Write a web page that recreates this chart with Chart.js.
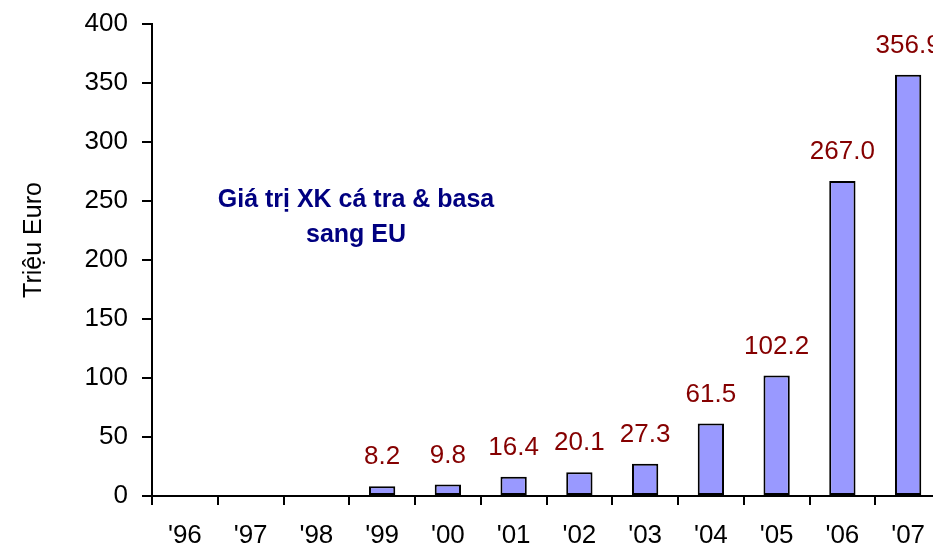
<!DOCTYPE html>
<html>
<head>
<meta charset="utf-8">
<script src="https://cdn.jsdelivr.net/npm/chart.js@4/dist/chart.umd.min.js"></script>
<style>
  html, body { margin: 0; padding: 0; background: #fff; overflow: hidden; }
  #khung { width: 945px; height: 550px; }
</style>
</head>
<body>
<div id="khung"><canvas id="xuatkhau" width="945" height="550"></canvas></div>
<script>
const nam = ["'96", "'97", "'98", "'99", "'00", "'01", "'02", "'03", "'04", "'05", "'06", "'07"];
const giaTri = [null, null, null, 8.2, 9.8, 16.4, 20.1, 27.3, 61.5, 102.2, 267.0, 356.9];
const mocTruc = [0, 50, 100, 150, 200, 250, 300, 350, 400];

const phongChu = "'Liberation Sans', Arial, sans-serif";

// ghi so lieu tren dau cot, ten truc va dong chu giua bieu do
const ghiChu = {
    id: "ghiChu",
    afterDatasetsDraw(chart) {
        const ctx = chart.ctx;
        const meta = chart.getDatasetMeta(0);
        ctx.save();
        ctx.font = "26px " + phongChu;
        ctx.fillStyle = "#850000";
        ctx.textAlign = "center";
        ctx.textBaseline = "middle";
        meta.data.forEach((cot, i) => {
            if (giaTri[i] == null) return;
            ctx.fillText(giaTri[i].toFixed(1), cot.x, cot.y - 29);
        });
        ctx.font = "bold 25px " + phongChu;
        ctx.fillStyle = "#000080";
        ctx.fillText("Giá trị XK cá tra & basa", 356, 200);
        ctx.fillText("sang EU", 356, 235);
        ctx.translate(34, 240);
        ctx.rotate(-Math.PI / 2);
        ctx.font = "25px " + phongChu;
        ctx.fillStyle = "#000";
        ctx.fillText("Triệu Euro", 0, 0);
        ctx.restore();
    },
};

new Chart(document.querySelector("#xuatkhau").getContext("2d"), {
    type: "bar",
    data: {
        labels: nam,
        datasets: [{
            data: giaTri,
            backgroundColor: "#9999ff",
            borderColor: "#000",
            borderWidth: 2,
            borderSkipped: false,
            barPercentage: 0.4,
            categoryPercentage: 1,
        }],
    },
    options: {
        responsive: false,
        animation: false,
        layout: { padding: { left: 0, right: 4, top: 24, bottom: 0 } },
        plugins: {
            legend: { display: false },
            tooltip: { enabled: false },
        },
        scales: {
            x: {
                afterFit: (truc) => { truc.height = 54; },
                grid: { drawOnChartArea: false, color: "#000", lineWidth: 2, tickLength: 9 },
                border: { color: "#000", width: 2 },
                ticks: { color: "#000", padding: 17, font: { family: phongChu, size: 26, lineHeight: 1.1 } },
            },
            y: {
                min: 0,
                max: 400,
                afterBuildTicks: (truc) => { truc.ticks = mocTruc.map((v) => ({ value: v })); },
                afterFit: (truc) => {
                    truc.width = 152;
                    truc.paddingTop = 0;
                    truc.paddingBottom = 0;
                },
                grid: { drawOnChartArea: false, color: "#000", lineWidth: 2, tickLength: 10 },
                border: { color: "#000", width: 2 },
                ticks: { color: "#000", padding: 14, font: { family: phongChu, size: 26 } },
            },
        },
    },
    plugins: [ghiChu],
});
</script>
</body>
</html>
